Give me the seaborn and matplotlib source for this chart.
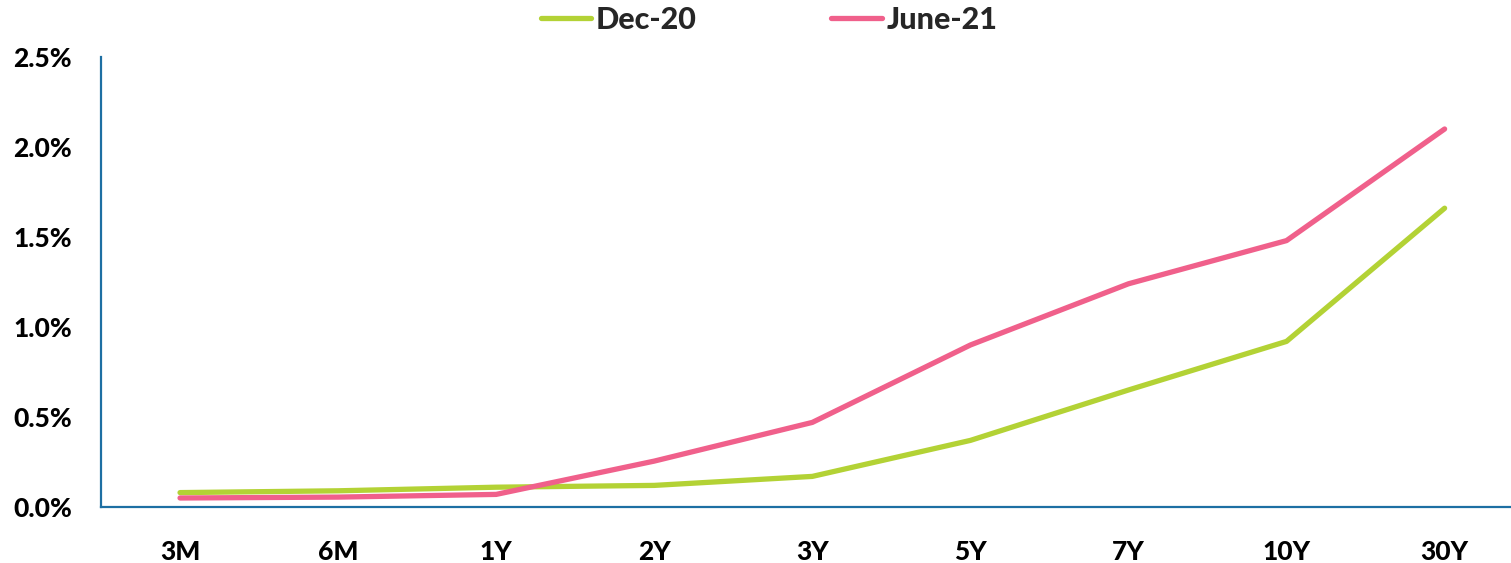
import matplotlib
matplotlib.use("Agg")
import matplotlib.pyplot as plt
from matplotlib.lines import Line2D
from matplotlib.ticker import FuncFormatter
import seaborn as sns
import pandas as pd

tenors = ["3M", "6M", "1Y", "2Y", "3Y", "5Y", "7Y", "10Y", "30Y"]
dec20 = [0.08, 0.09, 0.11, 0.12, 0.17, 0.37, 0.65, 0.92, 1.66]
jun21 = [0.05, 0.055, 0.07, 0.255, 0.47, 0.90, 1.24, 1.48, 2.10]
series_names = ["Dec-20", "June-21"]
colors = ["#b3d235", "#f0608b"]

df = pd.DataFrame({
    "tenor": tenors * 2,
    "value": dec20 + jun21,
    "series": [series_names[0]] * len(tenors) + [series_names[1]] * len(tenors),
})

sns.set_style("white")
plt.rcParams["font.family"] = ["Lato", "DejaVu Sans"]
plt.rcParams["font.weight"] = "black"

fig = plt.figure(figsize=(15.11, 5.63), dpi=100)
ax = fig.add_axes([101 / 1511, 1 - 507 / 563, 1 - 101 / 1511, (507 - 57) / 563])

sns.lineplot(data=df, x="tenor", y="value", hue="series", palette=colors,
             sort=False, linewidth=3.8, ax=ax, legend=False)
for ln in ax.get_lines():
    ln.set_solid_capstyle("round")
    ln.set_solid_joinstyle("round")

ax.set_xlim(-0.5, 8.42)
ax.set_ylim(0, 2.5)
ax.set_yticks([0, 0.5, 1.0, 1.5, 2.0, 2.5])
ax.yaxis.set_major_formatter(FuncFormatter(lambda v, p: f"{v:.1f}%"))
ax.set_xlabel("")
ax.set_ylabel("")
ax.grid(False)

for s in ["top", "right"]:
    ax.spines[s].set_visible(False)
for s in ["left", "bottom"]:
    ax.spines[s].set_color("#1d6fa3")
    ax.spines[s].set_linewidth(1.6)

ax.tick_params(axis="both", length=0, labelsize=19, colors="black")
ax.tick_params(axis="x", pad=24)
ax.tick_params(axis="y", pad=21)
for lab in ax.get_xticklabels() + ax.get_yticklabels():
    lab.set_fontweight("black")

handles = [Line2D([0], [0], color=c, lw=3.8, solid_capstyle="round") for c in colors]
fig.legend(handles, series_names, loc="center", bbox_to_anchor=(0.509, 0.965), ncol=2,
           frameon=False, prop={"weight": "black", "size": 22},
           handlelength=1.65, handletextpad=0.15, columnspacing=4.4)

fig.savefig("out.png", dpi=100)
